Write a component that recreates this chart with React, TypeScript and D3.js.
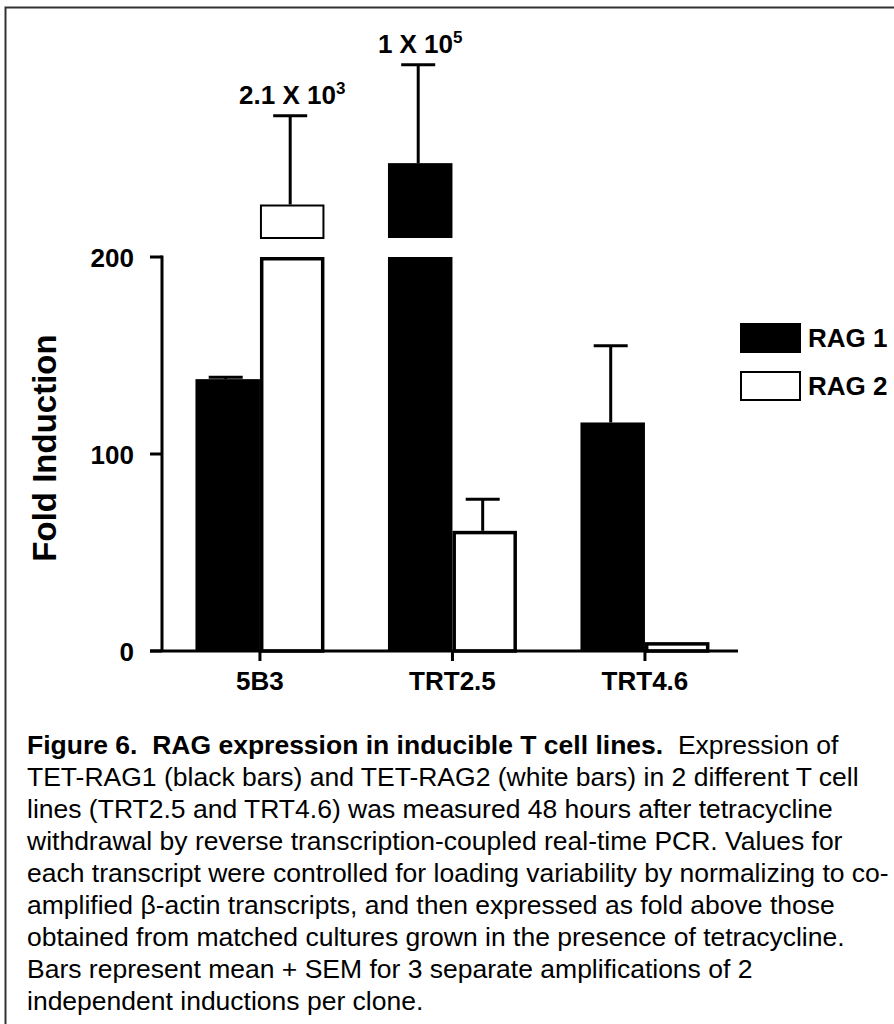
import React from 'react';
import * as d3 from 'd3';

const categories = ['5B3', 'TRT2.5', 'TRT4.6'];
const seriesNames = ['RAG 1', 'RAG 2'];
// plotted bar heights in axis units; anything above 200 continues in the segment above the break
const rag1Values = [138, 238, 116];
const rag2Values = [217, 61, 4.5];
const rag1Sem = [1, 50, 39];
const rag2Sem = [45, 16, 0];
const yTicks = [0, 100, 200];
const breakLabels = [
  { category: '5B3', series: 'RAG 2', base: '2.1 X 10', exp: '3' },
  { category: 'TRT2.5', series: 'RAG 1', base: '1 X 10', exp: '5' },
];
const captionBold = 'Figure 6.  RAG expression in inducible T cell lines.';
const captionLines = [
  '  Expression of',
  'TET-RAG1 (black bars) and TET-RAG2 (white bars) in 2 different T cell',
  'lines (TRT2.5 and TRT4.6) was measured 48 hours after tetracycline',
  'withdrawal by reverse transcription-coupled real-time PCR. Values for',
  'each transcript were controlled for loading variability by normalizing to co-',
  'amplified \u03B2-actin transcripts, and then expressed as fold above those',
  'obtained from matched cultures grown in the presence of tetracycline.',
  'Bars represent mean + SEM for 3 separate amplifications of 2',
  'independent inductions per clone.',
];

const font = '"Liberation Sans", Arial, Helvetica, sans-serif';

const App = () => {
  const width = 894;
  const height = 1024;

  const x0 = d3.scaleBand().domain(categories).range([163.7, 741.2])
    .paddingInner(0.33).paddingOuter(0.165);
  const x1 = d3.scaleBand().domain(seriesNames).range([0, x0.bandwidth()]);
  const yLow = d3.scaleLinear().domain([0, 200]).range([651, 257]);
  const yUp = d3.scaleLinear().domain([200, 300]).range([238, 41]);

  const values = { 'RAG 1': rag1Values, 'RAG 2': rag2Values };
  const sems = { 'RAG 1': rag1Sem, 'RAG 2': rag2Sem };
  const yOf = (v) => (v > 200 ? yUp(v) : yLow(v));

  const bars = [];
  categories.forEach((c, i) => {
    seriesNames.forEach((s) => {
      bars.push({ c, s, v: values[s][i], e: sems[s][i], x: x0(c) + x1(s), w: x1.bandwidth() });
    });
  });

  const barRect = (b, top, bottom, key, thin) => {
    const black = b.s === 'RAG 1';
    const sw = thin ? 2 : 3.5;
    return black ? (
      <rect key={key} x={b.x} y={top} width={b.w} height={bottom - top} fill="#000" />
    ) : (
      <rect key={key} x={b.x + sw / 2} y={top + sw / 2} width={b.w - sw} height={bottom - top - sw / 2}
        fill="#fff" stroke="#000" strokeWidth={sw} />
    );
  };

  return (
    <svg width={width} height={height} style={{ position: 'absolute', left: 0, top: 0, background: '#fff' }}
      fontFamily={font}>
      <rect x={5.5} y={7.5} width={920} height={1040} fill="none" stroke="#333" strokeWidth={2} />

      {/* bars */}
      {bars.map((b, i) => {
        const bottom = yLow(0);
        if (b.v <= 200) return barRect(b, yLow(b.v), bottom, 'b' + i, false);
        return (
          <g key={'b' + i}>
            {barRect(b, yLow(200), bottom, 'lo', false)}
            {barRect(b, yUp(b.v), yUp(200), 'up', true)}
          </g>
        );
      })}

      {/* error bars */}
      {bars.filter((b) => b.e > 0).map((b, i) => {
        const cx = b.x + b.w / 2 - 2;
        const top = yOf(b.v + b.e);
        return (
          <g key={'e' + i} stroke="#000" strokeWidth={3}>
            <line x1={cx} x2={cx} y1={yOf(b.v)} y2={top} />
            <line x1={cx - 17} x2={cx + 17} y1={top} y2={top} />
          </g>
        );
      })}

      {/* break labels */}
      {breakLabels.map((l, i) => {
        const b = bars.find((d) => d.c === l.category && d.s === l.series);
        return (
          <text key={'l' + i} x={b.x + b.w / 2} y={yOf(b.v + b.e) - 12} textAnchor="middle"
            fontSize={26} fontWeight="bold">
            {l.base}
            <tspan fontSize={17} dy={-10}>{l.exp}</tspan>
          </text>
        );
      })}

      {/* axes */}
      <g stroke="#000" strokeWidth={3}>
        <line x1={162} x2={162} y1={yLow(200) - 1.5} y2={yLow(0)} />
        <line x1={150} x2={738} y1={yLow(0)} y2={yLow(0)} />
        {yTicks.map((t) => (
          <line key={t} x1={150} x2={162} y1={yLow(t)} y2={yLow(t)} />
        ))}
        {categories.map((c) => (
          <line key={c} x1={x0(c) + x0.bandwidth() / 2} x2={x0(c) + x0.bandwidth() / 2}
            y1={yLow(0)} y2={yLow(0) + 10} />
        ))}
      </g>
      {yTicks.map((t) => (
        <text key={'t' + t} x={134} y={yLow(t)} dy="0.38em" textAnchor="end" fontSize={26} fontWeight="bold">
          {t}
        </text>
      ))}
      {categories.map((c) => (
        <text key={'c' + c} x={x0(c) + x0.bandwidth() / 2} y={690} textAnchor="middle" fontSize={26}
          fontWeight="bold">{c}</text>
      ))}
      <text transform="translate(56,448) rotate(-90)" textAnchor="middle" fontSize={33} fontWeight="bold">
        Fold Induction
      </text>

      {/* legend */}
      {seriesNames.map((s, i) => (
        <g key={s} transform={`translate(740,${323 + i * 48})`}>
          {i === 0 ? (
            <rect width={61} height={30} fill="#000" />
          ) : (
            <rect x={1} y={1} width={59} height={28} fill="#fff" stroke="#000" strokeWidth={2} />
          )}
          <text x={68} y={24} fontSize={26} fontWeight="bold">{s}</text>
        </g>
      ))}

      {/* caption */}
      <text x={27} y={754} fontSize={26.5} style={{ whiteSpace: 'pre' }}>
        <tspan fontWeight="bold">{captionBold}</tspan>
        <tspan>{captionLines[0]}</tspan>
        {captionLines.slice(1).map((line, i) => (
          <tspan key={i} x={27} y={754 + (i + 1) * 32}>{line}</tspan>
        ))}
      </text>
    </svg>
  );
};

export default App;
